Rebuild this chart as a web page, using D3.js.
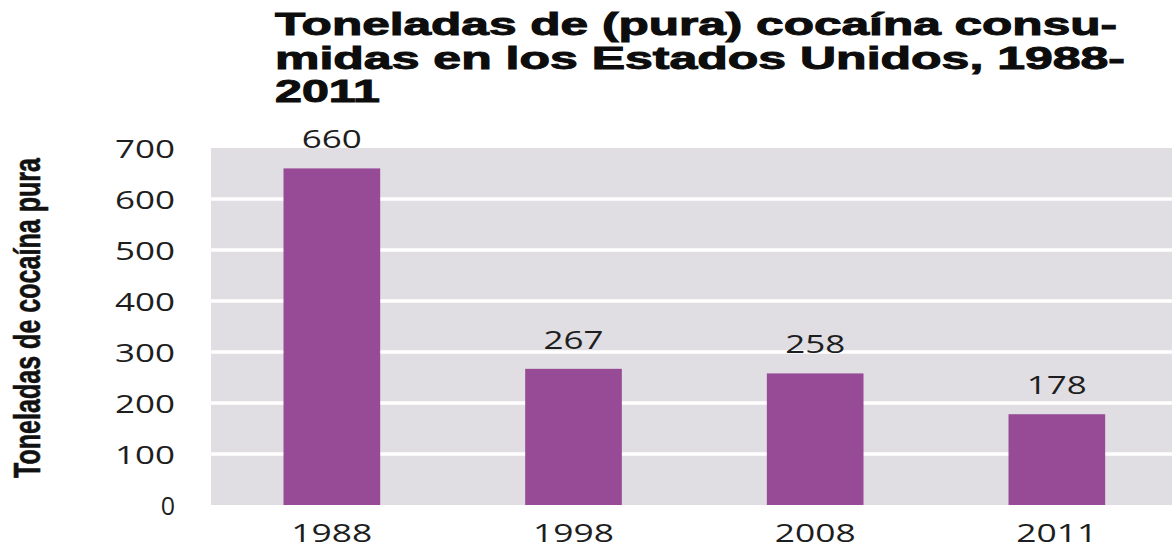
<!DOCTYPE html>
<html>
<head>
<meta charset="utf-8">
<script src="https://cdn.jsdelivr.net/npm/d3@7"></script>
<style>
  html, body { margin: 0; padding: 0; background: #ffffff; }
  svg { display: block; }
</style>
</head>
<body>
<svg id="chart" width="1173" height="548"></svg>
<script>
const categories = ["1988", "1998", "2008", "2011"];
const values = [660, 267, 258, 178];
const yTicks = [0, 100, 200, 300, 400, 500, 600, 700];
const titleLines = ["Toneladas de (pura) cocaína consu-", "midas en los Estados Unidos, 1988-", "2011"];
const yLabel = "Toneladas de cocaína pura";

(function () {
const pLeft = 211, pRight = 1172, pTop = 148, pBottom = 505;

const svg = d3.select("#chart");

const x = d3.scaleBand().domain(categories).range([pLeft, pLeft + 4 * 241.67]).paddingInner(0.6).paddingOuter(0.3);
const y = d3.scaleLinear().domain([0, 700]).range([pBottom, pTop]);

const numFont = "'Open Sans', 'Noto Sans', sans-serif";
const numLen = s => String(s).length > 1 ? 21 * String(s).length - 3 : null;
function styleNum(sel) {
  sel.attr("font-family", numFont).attr("font-size", 25)
    .attr("fill", "#1e1e1e")
    .each(function () {
      const t = d3.select(this);
      const L = numLen(t.text());
      if (L) t.attr("textLength", L).attr("lengthAdjust", "spacingAndGlyphs");
    });
}

// panel
svg.append("rect").attr("x", pLeft).attr("y", pTop).attr("width", pRight - pLeft).attr("height", pBottom - pTop).attr("fill", "#e0dee3");

// gridlines
svg.append("g").selectAll("line").data(yTicks.filter(d => d > 0 && d < 700)).join("line")
  .attr("x1", pLeft).attr("x2", pRight)
  .attr("y1", d => y(d)).attr("y2", d => y(d))
  .attr("stroke", "#ffffff").attr("stroke-width", 3.5);

// bars
svg.append("g").selectAll("rect").data(values).join("rect")
  .attr("x", (d, i) => x(categories[i]))
  .attr("width", x.bandwidth())
  .attr("y", d => y(d))
  .attr("height", d => y(0) - y(d))
  .attr("fill", "#974b97");

// value labels
svg.append("g").selectAll("text").data(values).join("text")
  .attr("x", (d, i) => x(categories[i]) + x.bandwidth() / 2)
  .attr("y", d => y(d) - 20)
  .attr("text-anchor", "middle")
  .text(d => d)
  .call(styleNum);

// y axis
const yAxis = svg.append("g").attr("transform", `translate(${pLeft},0)`)
  .call(d3.axisLeft(y).tickValues(yTicks).tickSize(0).tickPadding(36));
yAxis.select(".domain").remove();
yAxis.selectAll("text").call(styleNum).attr("dy", "0.36em");

// x axis
const xAxis = svg.append("g").attr("transform", `translate(0,${pBottom})`)
  .call(d3.axisBottom(x).tickSize(0).tickPadding(0));
xAxis.select(".domain").remove();
xAxis.selectAll("text").call(styleNum).attr("dy", 0).attr("y", 37);

// y label
svg.append("text")
  .attr("transform", `translate(40,${(158 + 478) / 2}) rotate(-90)`)
  .attr("text-anchor", "middle")
  .attr("font-family", "'Liberation Sans Narrow', 'Liberation Sans', Arial, sans-serif")
  .attr("font-weight", "bold").attr("font-size", 36)
  .attr("textLength", 320).attr("lengthAdjust", "spacingAndGlyphs")
  .attr("fill", "#111").attr("stroke", "#111").attr("stroke-width", 0.6)
  .text(yLabel);

// title
const titleBase = [35, 68.5, 102];
const titleLen = [842, 850, 105];
svg.append("g").selectAll("text").data(titleLines).join("text")
  .attr("x", 275)
  .attr("y", (d, i) => titleBase[i])
  .attr("font-family", "'Liberation Sans', Arial, sans-serif")
  .attr("font-weight", "bold").attr("font-size", 32)
  .attr("textLength", (d, i) => titleLen[i]).attr("lengthAdjust", "spacingAndGlyphs")
  .attr("fill", "#0d0d0d").attr("stroke", "#0d0d0d").attr("stroke-width", 1)
  .text(d => d);
})();
</script>
</body>
</html>
